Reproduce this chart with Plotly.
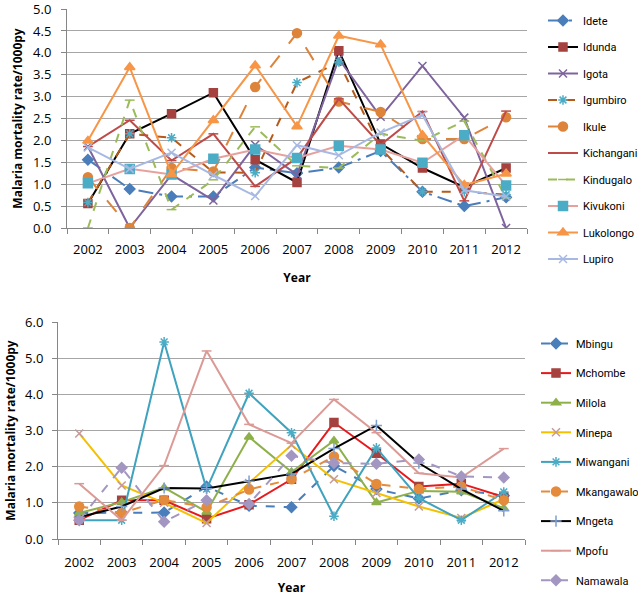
import plotly.graph_objects as go

years = ["2002", "2003", "2004", "2005", "2006", "2007", "2008", "2009", "2010", "2011", "2012"]

# Top panel
Idete = [1.56, 0.89, 0.72, 0.72, 1.38, 1.25, 1.38, 1.76, 0.83, 0.50, 0.70]
Idunda = [0.56, 2.15, 2.61, 3.09, 1.56, 1.04, 4.05, 1.92, 1.37, 0.93, 1.37]
Igota = [1.86, 0.0, 1.22, 0.63, 1.90, 1.22, 3.86, 2.54, 3.70, 2.52, 0.0]
Igumbiro = [0.58, 2.15, 2.06, 1.27, 1.26, 3.32, 3.79, 1.82, 0.83, 0.83, 0.76]
Ikule = [1.16, 0.0, 1.37, 1.29, 3.22, 4.45, 2.89, 2.65, 2.03, 2.03, 2.53]
Kichangani = [1.86, 2.46, 1.54, 2.15, 0.95, 1.60, 2.95, 1.90, 2.66, 0.62, 2.67]
Kindugalo = [0.0, 2.92, 0.42, 1.10, 2.31, 1.42, 1.37, 2.15, 1.99, 2.44, 0.69]
Kivukoni = [1.02, 1.35, 1.22, 1.58, 1.79, 1.60, 1.88, 1.79, 1.49, 2.12, 0.97]
Lukolongo = [1.99, 3.67, 1.23, 2.46, 3.71, 2.32, 4.39, 4.19, 2.12, 0.98, 1.24]
Lupiro = [1.84, 1.35, 1.72, 1.21, 0.73, 1.89, 1.66, 2.18, 2.58, 0.86, 0.72]

# Bottom panel
Mbingu = [0.72, 0.73, 0.73, 1.45, 0.92, 0.88, 2.02, 1.38, 1.12, 1.35, 1.20]
Mchombe = [0.52, 1.07, 1.07, 0.56, 0.95, 1.65, 3.22, 2.37, 1.45, 1.53, 1.16]
Milola = [0.72, 1.02, 1.42, 0.75, 2.82, 1.85, 2.72, 1.01, 1.33, 1.31, 0.85]
Minepa = [2.92, 1.48, 1.00, 0.44, 1.55, 2.60, 1.65, 1.27, 0.90, 0.58, 1.10]
Miwangani = [0.52, 0.52, 5.45, 1.38, 4.03, 2.94, 0.63, 2.52, 1.13, 0.52, 1.30]
Mkangawalo = [0.90, 0.72, 1.08, 0.88, 1.37, 1.65, 2.28, 1.52, 1.38, 1.45, 1.07]
Mngeta = [0.60, 0.90, 1.41, 1.40, 1.60, 1.80, 2.50, 3.14, 2.10, 1.38, 0.78]
Mpofu = [1.53, 0.52, 2.03, 5.20, 3.17, 2.65, 3.86, 2.94, 1.82, 1.70, 2.50]
Namawala = [0.52, 1.97, 0.48, 1.07, 0.97, 2.30, 2.10, 2.08, 2.20, 1.73, 1.70]

top_series = [
    ("Idete", Idete, "#4A7EBB", "longdashdot", "diamond", "#4A7EBB", 8),
    ("Idunda", Idunda, "#000000", "solid", "square", "#A5423F", 8),
    ("Igota", Igota, "#7E649E", "solid", "x-thin-open", "#7E649E", 8),
    ("Igumbiro", Igumbiro, "#B65A1A", "dash", "asterisk-open", "#4BACC6", 8),
    ("Ikule", Ikule, "#DD843A", "longdash", "circle", "#DD843A", 9),
    ("Kichangani", Kichangani, "#BE4B48", "solid", "line-ew-open", "#BE4B48", 7),
    ("Kindugalo", Kindugalo, "#9BBB59", "dash", "line-ew-open", "#9BBB59", 7),
    ("Kivukoni", Kivukoni, "#E6A19D", "solid", "square", "#4BACC6", 9),
    ("Lukolongo", Lukolongo, "#F79646", "solid", "triangle-up", "#F79646", 9),
    ("Lupiro", Lupiro, "#A7B9E3", "solid", "x-thin-open", "#A7B9E3", 8),
]

bottom_series = [
    ("Mbingu", Mbingu, "#4A7EBB", "dash", "diamond", "#4A7EBB", 8),
    ("Mchombe", Mchombe, "#E8191C", "solid", "square", "#A5423F", 8),
    ("Milola", Milola, "#8EB04A", "solid", "triangle-up", "#8EB04A", 8),
    ("Minepa", Minepa, "#F5C000", "solid", "x-thin-open", "#C49A9A", 8),
    ("Miwangani", Miwangani, "#3FA2BE", "solid", "asterisk-open", "#4BACC6", 8),
    ("Mkangawalo", Mkangawalo, "#E48B3C", "dash", "circle", "#E48B3C", 9),
    ("Mngeta", Mngeta, "#000000", "solid", "cross-thin-open", "#7F9FD0", 8),
    ("Mpofu", Mpofu, "#DB9A96", "solid", "line-ew-open", "#DB9A96", 7),
    ("Namawala", Namawala, "#A397C2", "dash", "diamond", "#A397C2", 8),
]

fig = go.Figure()

for name, vals, col, dash, sym, mcol, msize in top_series:
    fig.add_trace(go.Scatter(
        x=years, y=vals, name=name, mode="lines+markers",
        line=dict(color=col, width=2, dash=dash),
        marker=dict(symbol=sym, color=mcol, size=msize, line=dict(color=mcol, width=1.5)),
        xaxis="x", yaxis="y", legend="legend", legendgroup=name,
    ))

for name, vals, col, dash, sym, mcol, msize in bottom_series:
    fig.add_trace(go.Scatter(
        x=years, y=vals, name=name, mode="lines+markers",
        line=dict(color=col, width=2, dash=dash),
        marker=dict(symbol=sym, color=mcol, size=msize, line=dict(color=mcol, width=1.5)),
        xaxis="x2", yaxis="y2", legend="legend2", legendgroup=name,
    ))

W, H = 638, 596
tick_font = dict(family="Open Sans, Liberation Sans, sans-serif", size=13, color="#000000")
title_font = dict(family="Open Sans, Liberation Sans, sans-serif", size=12, color="#000000")
legend_font = dict(family="Roboto, Liberation Sans, sans-serif", size=11, color="#000000")

def xaxis(domain, anchor, lab_standoff, standoff):
    return dict(
        domain=domain, anchor=anchor, type="category", automargin=False,
        tickson="boundaries", ticks="outside", ticklen=5, tickcolor="#868686",
        showline=True, linecolor="#868686", linewidth=1, showgrid=False,
        tickfont=tick_font, range=[-0.5, 10.5], ticklabelstandoff=lab_standoff,
        ticklabeloverflow="allow",
        title=dict(text="<b>Year</b>", font=title_font, standoff=standoff),
    )

def yaxis(domain, anchor, rng, dtick, lab_standoff, standoff):
    return dict(
        domain=domain, anchor=anchor, range=rng, dtick=dtick, tickformat=".1f",
        automargin=False, ticklabeloverflow="allow",
        ticks="outside", ticklen=5, tickcolor="#868686",
        showline=True, linecolor="#868686", linewidth=1,
        showgrid=True, gridcolor="#A6A6A6", gridwidth=1, zeroline=False,
        tickfont=tick_font, ticklabelstandoff=lab_standoff,
        title=dict(text="<b>Malaria mortality rate/1000py</b>", font=title_font, standoff=standoff),
    )

fig.update_layout(
    width=W, height=H,
    margin=dict(l=0, r=0, t=0, b=0, autoexpand=False),
    paper_bgcolor="white", plot_bgcolor="white",
    xaxis=xaxis([67 / W, 527 / W], "y", 9, 17),
    yaxis=yaxis([1 - 228 / H, 1 - 9 / H], "x", [0, 5.001], 0.5, 7, 7),
    xaxis2=xaxis([58 / W, 525 / W], "y2", 11, 20),
    yaxis2=yaxis([1 - 539 / H, 1 - 322 / H], "x2", [0, 6.001], 1, 6, 6),
    legend=dict(x=543 / W, y=1 - 6 / H, xanchor="left", yanchor="top",
                font=legend_font, tracegroupgap=7.5, bgcolor="rgba(0,0,0,0)",
                itemwidth=30),
    legend2=dict(x=536 / W, y=1 - 329 / H, xanchor="left", yanchor="top",
                 font=legend_font, tracegroupgap=10.6, bgcolor="rgba(0,0,0,0)",
                 itemwidth=30),
    showlegend=True,
)

fig.write_html("out.html", config={"displayModeBar": False},
               post_script="document.body.style.margin='0px';")
